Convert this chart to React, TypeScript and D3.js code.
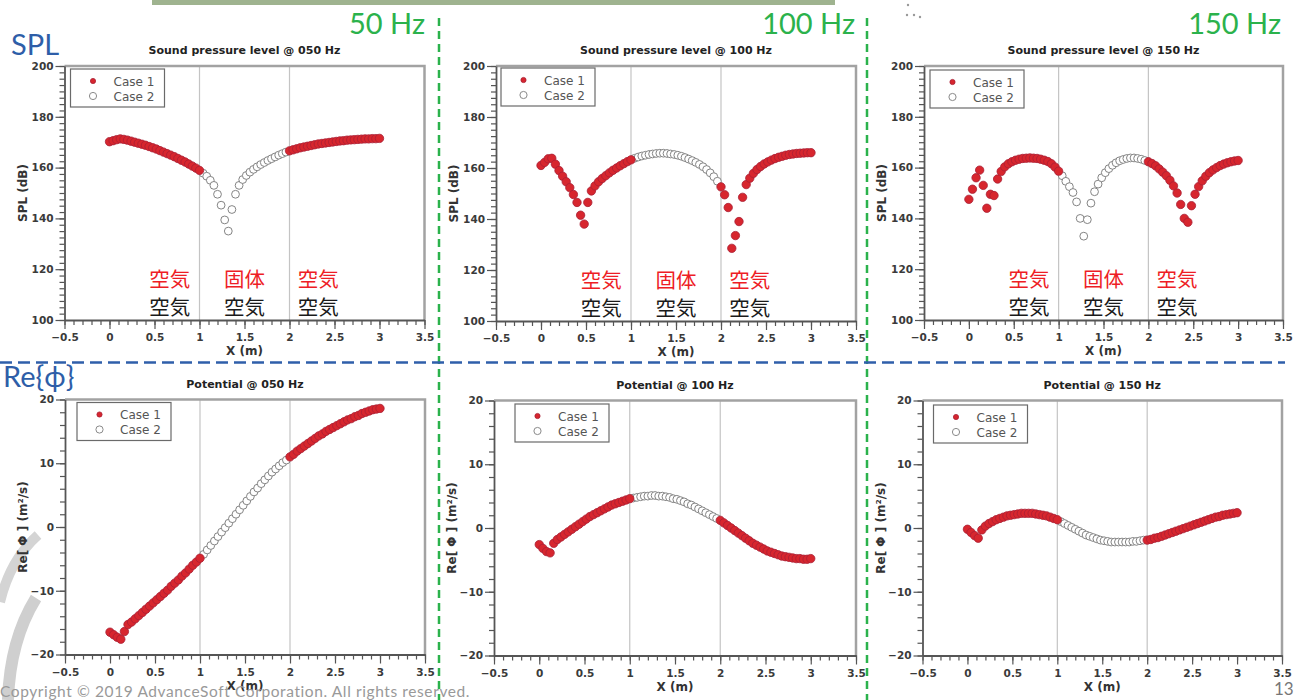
import { useEffect, useRef } from "react";
import * as d3 from "d3";

const WIDTH = 1297;
const HEIGHT = 700;

// measuring points along the duct, X (m)
const xPos = [
  0, 0.04, 0.08, 0.12, 0.16, 0.2, 0.24, 0.28, 0.32, 0.36, 0.4, 0.44, 0.48, 0.52, 0.56, 0.6, 0.64, 0.68, 0.72, 0.76, 0.8, 0.84, 0.88, 0.92, 0.96,
  1, 1.04, 1.08, 1.12, 1.16, 1.2, 1.24, 1.28, 1.32, 1.36, 1.4, 1.44, 1.48, 1.52, 1.56, 1.6, 1.64, 1.68, 1.72, 1.76, 1.8, 1.84, 1.88, 1.92, 1.96,
  2, 2.04, 2.08, 2.12, 2.16, 2.2, 2.24, 2.28, 2.32, 2.36, 2.4, 2.44, 2.48, 2.52, 2.56, 2.6, 2.64, 2.68, 2.72, 2.76, 2.8, 2.84, 2.88, 2.92, 2.96, 3,
];

// sound pressure level (dB)
const spl050 = [
  170.2, 170.6, 171.0, 171.3, 171.1, 170.8, 170.4, 170.0, 169.6, 169.2, 168.8, 168.3, 167.8, 167.3, 166.7, 166.1, 165.5, 164.9, 164.3, 163.6, 162.9, 162.2, 161.4, 160.6, 159.8,
  158.9, 157.8, 156.6, 155.0, 153.0, 149.5, 145.2, 139.4, 135.0, 143.5, 149.5, 153.0, 155.3, 156.9, 158.2, 159.3, 160.3, 161.2, 162.0, 162.8, 163.5, 164.2, 164.9, 165.5, 166.1,
  166.6, 167.0, 167.4, 167.8, 168.1, 168.4, 168.7, 169.0, 169.3, 169.5, 169.7, 169.9, 170.1, 170.3, 170.5, 170.6, 170.8, 170.9, 171.0, 171.1, 171.2, 171.3, 171.3, 171.4, 171.4, 171.5,
];
const spl100 = [
  161.0, 162.2, 163.6, 163.8, 161.5, 159.0, 156.8, 154.6, 152.3, 149.6, 146.5, 141.5, 138.0, 146.5, 151.0, 153.0, 154.6, 155.9, 157.0, 158.1, 159.1, 160.0, 160.9, 161.7, 162.5,
  163.2, 163.8, 164.3, 164.7, 165.0, 165.3, 165.5, 165.7, 165.8, 165.8, 165.7, 165.5, 165.3, 165.0, 164.6, 164.1, 163.5, 162.9, 162.2, 161.4, 160.5, 159.4, 158.1, 156.6, 154.8,
  152.6, 149.5, 144.5, 128.5, 133.5, 139.0, 148.5, 153.5, 156.0, 157.9, 159.4, 160.6, 161.6, 162.4, 163.1, 163.7, 164.2, 164.6, 165.0, 165.3, 165.5, 165.7, 165.8, 165.9, 166.0, 166.0,
];
const spl150 = [
  147.5, 151.5, 156.0, 159.0, 153.0, 144.0, 149.5, 149.0, 155.5, 158.5, 160.3, 161.5, 162.3, 162.9, 163.3, 163.6, 163.7, 163.8, 163.7, 163.6, 163.3, 162.9, 162.4, 161.5, 160.2,
  158.6, 156.8, 154.6, 152.5, 150.2, 146.5, 140.0, 133.0, 139.5, 146.0, 150.5, 153.5, 156.0, 158.0, 159.6, 160.9, 161.9, 162.7, 163.2, 163.6, 163.8, 163.8, 163.6, 163.3, 162.8,
  162.3, 161.6, 160.7, 159.5, 158.2, 156.8, 155.0, 152.8, 150.0, 145.5, 140.0, 138.5, 145.0, 149.5, 152.5, 154.8, 156.6, 158.0, 159.1, 160.0, 160.8, 161.4, 161.9, 162.3, 162.6, 162.8,
];

// real part of the velocity potential (m2/s)
const pot050 = [
  -16.5, -16.9, -17.3, -17.6, -16.4, -15.3, -14.9, -14.4, -13.9, -13.4, -12.9, -12.4, -11.9, -11.4, -10.9, -10.4, -9.9, -9.3, -8.8, -8.3, -7.7, -7.2, -6.6, -6.0, -5.5,
  -4.9, -4.3, -3.6, -2.9, -2.2, -1.5, -0.8, -0.1, 0.6, 1.3, 2.0, 2.7, 3.4, 4.1, 4.8, 5.5, 6.1, 6.8, 7.4, 8.0, 8.6, 9.1, 9.6, 10.1, 10.5,
  11.0, 11.4, 11.9, 12.3, 12.7, 13.1, 13.5, 13.9, 14.3, 14.6, 15.0, 15.3, 15.6, 15.9, 16.2, 16.5, 16.8, 17.0, 17.3, 17.5, 17.8, 18.0, 18.2, 18.4, 18.5, 18.6,
];
const pot100 = [
  -2.6, -3.2, -3.7, -3.9, -2.4, -1.8, -1.4, -1.0, -0.6, -0.2, 0.2, 0.6, 1.0, 1.4, 1.8, 2.1, 2.4, 2.7, 3.0, 3.3, 3.6, 3.8, 4.0, 4.2, 4.4,
  4.6, 4.7, 4.8, 4.9, 5.0, 5.0, 5.1, 5.1, 5.0, 5.0, 4.9, 4.8, 4.6, 4.5, 4.3, 4.1, 3.8, 3.6, 3.3, 3.0, 2.7, 2.4, 2.1, 1.8, 1.5,
  1.2, 0.8, 0.4, 0.0, -0.4, -0.8, -1.2, -1.6, -2.0, -2.4, -2.7, -3.0, -3.3, -3.6, -3.8, -4.0, -4.2, -4.4, -4.5, -4.6, -4.7, -4.8, -4.8, -4.9, -4.9, -4.8,
];
const pot150 = [
  -0.2, -0.7, -1.2, -1.6, -0.3, 0.3, 0.7, 1.0, 1.3, 1.5, 1.7, 1.9, 2.0, 2.1, 2.2, 2.3, 2.3, 2.3, 2.3, 2.2, 2.1, 2.0, 1.9, 1.7, 1.5,
  1.3, 1.0, 0.7, 0.4, 0.1, -0.2, -0.5, -0.8, -1.1, -1.3, -1.5, -1.7, -1.9, -2.0, -2.1, -2.2, -2.2, -2.2, -2.2, -2.2, -2.2, -2.1, -2.1, -2.0, -1.9,
  -1.9, -1.8, -1.6, -1.5, -1.3, -1.1, -0.9, -0.7, -0.5, -0.3, -0.1, 0.1, 0.3, 0.5, 0.7, 0.9, 1.1, 1.3, 1.5, 1.7, 1.8, 2.0, 2.1, 2.2, 2.3, 2.4,
];

const xTicks = [-0.5, 0, 0.5, 1, 1.5, 2, 2.5, 3, 3.5];
const splTicks = [100, 120, 140, 160, 180, 200];
const potTicks = [-20, -10, 0, 10, 20];
const boundaries = [1, 2];
const freqLabels = ["50 Hz", "100 Hz", "150 Hz"];
const freqCodes = ["050", "100", "150"];
const caseNames = ["Case 1", "Case 2"];
const case1Media = ["空気", "固体", "空気"];
const case2Media = ["空気", "空気", "空気"];
const mediaX = [0.67, 1.5, 2.32];

const panels = [
  { kind: "spl", code: freqCodes[0], values: spl050 },
  { kind: "spl", code: freqCodes[1], values: spl100 },
  { kind: "spl", code: freqCodes[2], values: spl150 },
  { kind: "pot", code: freqCodes[0], values: pot050 },
  { kind: "pot", code: freqCodes[1], values: pot100 },
  { kind: "pot", code: freqCodes[2], values: pot150 },
];

// where each plot area sits on the slide
const boxes = [
  { left: 64.5, top: 66, w: 360, h: 254, lx: 6, ly: 3 },
  { left: 496, top: 66, w: 360, h: 255, lx: 5, ly: 2 },
  { left: 924, top: 66, w: 359, h: 254, lx: 6, ly: 4 },
  { left: 65, top: 399.5, w: 360, h: 255, lx: 12, ly: 3 },
  { left: 494, top: 400.5, w: 362, h: 255, lx: 21, ly: 3.5 },
  { left: 922.5, top: 400.5, w: 359.5, h: 255, lx: 11, ly: 4.5 },
];

const PLOT_FONT = "'DejaVu Sans', sans-serif";
const SLIDE_FONT = "Lato, 'Open Sans', sans-serif";
const RED = "#d7262e";

function drawPanel(root, panel, box) {
  const isSpl = panel.kind === "spl";
  const x = d3.scaleLinear().domain([-0.5, 3.5]).range([box.left, box.left + box.w]);
  const y = d3
    .scaleLinear()
    .domain(isSpl ? [100, 200] : [-20, 20])
    .range([box.top + box.h, box.top]);
  const bottom = box.top + box.h;
  const g = root.append("g");

  // material boundaries
  g.selectAll("line.bound")
    .data(boundaries)
    .join("line")
    .attr("class", "bound")
    .attr("x1", (d) => x(d))
    .attr("x2", (d) => x(d))
    .attr("y1", box.top)
    .attr("y2", bottom)
    .attr("stroke", "#c4c4c4")
    .attr("stroke-width", 1.2);

  // top / right frame
  g.append("path")
    .attr("d", `M${box.left},${box.top}H${box.left + box.w}V${bottom}`)
    .attr("fill", "none")
    .attr("stroke", "#a2a2a2")
    .attr("stroke-width", 2.5);

  // minor ticks
  const xMinor = d3.range(-5, 36).map((d) => d / 10);
  const yMinor = isSpl ? d3.range(40, 81).map((d) => d * 2.5) : d3.range(-10, 11).map((d) => d * 2);
  g.append("g")
    .attr("transform", `translate(0,${bottom})`)
    .call(d3.axisBottom(x).tickValues(xMinor).tickSize(5).tickSizeOuter(0).tickFormat(() => ""))
    .call((a) => a.select(".domain").remove());
  g.append("g")
    .attr("transform", `translate(${box.left},0)`)
    .call(d3.axisLeft(y).tickValues(yMinor).tickSize(5).tickSizeOuter(0).tickFormat(() => ""))
    .call((a) => a.select(".domain").remove());

  // major axes
  const fmt = (d) => String(d).replace("-", "\u2212");
  g.append("g")
    .attr("transform", `translate(0,${bottom})`)
    .call(d3.axisBottom(x).tickValues(xTicks).tickSize(9).tickSizeOuter(0).tickPadding(5).tickFormat(fmt));
  g.append("g")
    .attr("transform", `translate(${box.left},0)`)
    .call(
      d3
        .axisLeft(y)
        .tickValues(isSpl ? splTicks : potTicks)
        .tickSize(9)
        .tickSizeOuter(0)
        .tickPadding(2)
        .tickFormat(fmt)
    );
  g.selectAll(".tick line").attr("stroke", "#555").attr("stroke-width", 1.2);
  g.selectAll(".domain").attr("stroke", "#555").attr("stroke-width", 1.8);
  g.selectAll(".tick text")
    .attr("fill", "#3a3a3a")
    .style("font-family", PLOT_FONT)
    .style("font-size", "10.5px")
    .style("font-weight", "bold");

  // points
  const pts = xPos.map((xv, i) => ({
    x: xv,
    v: panel.values[i],
    solid: xv > boundaries[0] && xv < boundaries[1],
  }));
  g.selectAll("circle.c2")
    .data(pts.filter((d) => d.solid))
    .join("circle")
    .attr("class", "c2")
    .attr("cx", (d) => x(d.x))
    .attr("cy", (d) => y(d.v))
    .attr("r", 3.9)
    .attr("fill", "#fff")
    .attr("stroke", "#848484")
    .attr("stroke-width", 1);
  g.selectAll("circle.c1")
    .data(pts.filter((d) => !d.solid))
    .join("circle")
    .attr("class", "c1")
    .attr("cx", (d) => x(d.x))
    .attr("cy", (d) => y(d.v))
    .attr("r", 4.2)
    .attr("fill", RED)
    .attr("stroke", "#a81f35")
    .attr("stroke-width", 0.8);

  // legend
  const lx = box.left + box.lx;
  const ly = box.top + box.ly;
  const leg = g.append("g");
  leg.append("rect")
    .attr("x", lx)
    .attr("y", ly)
    .attr("width", 94)
    .attr("height", 38)
    .attr("fill", "#fff")
    .attr("stroke", "#6a6a6a")
    .attr("stroke-width", 1.2);
  leg.append("circle").attr("cx", lx + 22.5).attr("cy", ly + 12).attr("r", 2.6).attr("fill", RED).attr("stroke", "#a81f35").attr("stroke-width", 0.8);
  leg.append("circle").attr("cx", lx + 22.5).attr("cy", ly + 27).attr("r", 3.6).attr("fill", "#fff").attr("stroke", "#8a8a8a");
  leg.selectAll("text")
    .data(caseNames)
    .join("text")
    .attr("x", lx + 43)
    .attr("y", (d, i) => ly + 16.5 + i * 15)
    .attr("fill", "#555")
    .style("font-family", PLOT_FONT)
    .style("font-size", "12px")
    .text((d) => d);

  // title and axis labels
  g.append("text")
    .attr("x", box.left + box.w / 2)
    .attr("y", box.top - 12)
    .attr("text-anchor", "middle")
    .attr("fill", "#222")
    .style("font-family", PLOT_FONT)
    .style("font-size", "11px")
    .style("font-weight", "bold")
    .text(isSpl ? `Sound pressure level @ ${panel.code} Hz` : `Potential @ ${panel.code} Hz`);
  g.append("text")
    .attr("x", box.left + box.w / 2)
    .attr("y", bottom + 35)
    .attr("text-anchor", "middle")
    .attr("fill", "#333")
    .style("font-family", PLOT_FONT)
    .style("font-size", "12px")
    .style("font-weight", "bold")
    .text("X (m)");
  g.append("text")
    .attr("transform", `translate(${box.left - 38},${box.top + box.h / 2}) rotate(-90)`)
    .attr("text-anchor", "middle")
    .attr("fill", "#333")
    .style("font-family", PLOT_FONT)
    .style("font-size", "12px")
    .style("font-weight", "bold")
    .text(isSpl ? "SPL (dB)" : "Re[ \u03a6 ] (m\u00b2/s)");

  // media of each section (case 1 red, case 2 black)
  if (isSpl) {
    const rows = [
      { labels: case1Media, level: 112.8, color: "#ee1d25" },
      { labels: case2Media, level: 102, color: "#1a1a1a" },
    ];
    rows.forEach((row) => {
      g.selectAll(null)
        .data(row.labels)
        .join("text")
        .attr("x", (d, i) => x(mediaX[i]))
        .attr("y", y(row.level))
        .attr("text-anchor", "middle")
        .attr("fill", row.color)
        .style("font-family", "'Noto Sans CJK JP', sans-serif")
        .style("font-size", "20.5px")
        .text((d) => d);
    });
  }
}

export default function App() {
  const ref = useRef(null);

  useEffect(() => {
    const svg = d3.select(ref.current);
    svg.selectAll("*").remove();

    svg.append("rect").attr("width", WIDTH).attr("height", HEIGHT).attr("fill", "#fff");

    // slide decoration
    svg.append("rect").attr("x", 152).attr("y", 0).attr("width", 683).attr("height", 5).attr("fill", "#9fb38f");
    svg.selectAll("circle.speck")
      .data([[908, 5], [907, 15], [914, 15], [920, 17]])
      .join("circle")
      .attr("cx", (d) => d[0])
      .attr("cy", (d) => d[1])
      .attr("r", 1.2)
      .attr("fill", "#999");
    svg.append("path").attr("d", "M38,535 Q10,560 0,602").attr("fill", "none").attr("stroke", "#d4d4d4").attr("stroke-width", 10);
    svg.append("path").attr("d", "M36,598 Q10,640 8,700").attr("fill", "none").attr("stroke", "#cfcfcf").attr("stroke-width", 12);

    panels.forEach((p, i) => drawPanel(svg, p, boxes[i]));

    // section dividers
    svg.selectAll("line.vdiv")
      .data([439, 867])
      .join("line")
      .attr("x1", (d) => d)
      .attr("x2", (d) => d)
      .attr("y1", 18)
      .attr("y2", HEIGHT)
      .attr("stroke", "#2bb24c")
      .attr("stroke-width", 2.5)
      .attr("stroke-dasharray", "8 5");
    svg.append("line")
      .attr("x1", 0)
      .attr("x2", 1285)
      .attr("y1", 362.5)
      .attr("y2", 362.5)
      .attr("stroke", "#2f5faa")
      .attr("stroke-width", 2.5)
      .attr("stroke-dasharray", "12 6");

    // frequency headings
    svg.selectAll("text.freq")
      .data(freqLabels)
      .join("text")
      .attr("class", "freq")
      .attr("x", (d, i) => [425, 855, 1281][i])
      .attr("y", 34)
      .attr("text-anchor", "end")
      .attr("fill", "#2bb24c")
      .style("font-family", SLIDE_FONT)
      .style("font-size", "29px")
      .text((d) => d);

    svg.append("text").attr("x", 11).attr("y", 55).attr("fill", "#2e5ea8").style("font-family", SLIDE_FONT).style("font-size", "29px").text("SPL");
    svg.append("text").attr("x", 3).attr("y", 387).attr("fill", "#2e5ea8").style("font-family", SLIDE_FONT).style("font-size", "29px").text("Re{\u03d5}");

    svg.append("text")
      .attr("x", 0)
      .attr("y", 697)
      .attr("fill", "#999")
      .style("font-family", SLIDE_FONT)
      .style("font-size", "15.5px")
      .style("letter-spacing", "0.6px")
      .text("Copyright \u00a9 2019 AdvanceSoft Corporation. All rights reserved.");
    svg.append("text").attr("x", 1274).attr("y", 695).attr("fill", "#777").style("font-family", SLIDE_FONT).style("font-size", "17px").text("13");
  }, []);

  return (
    <svg
      ref={ref}
      width={WIDTH}
      height={HEIGHT}
      style={{ position: "absolute", left: 0, top: 0, display: "block" }}
    />
  );
}
